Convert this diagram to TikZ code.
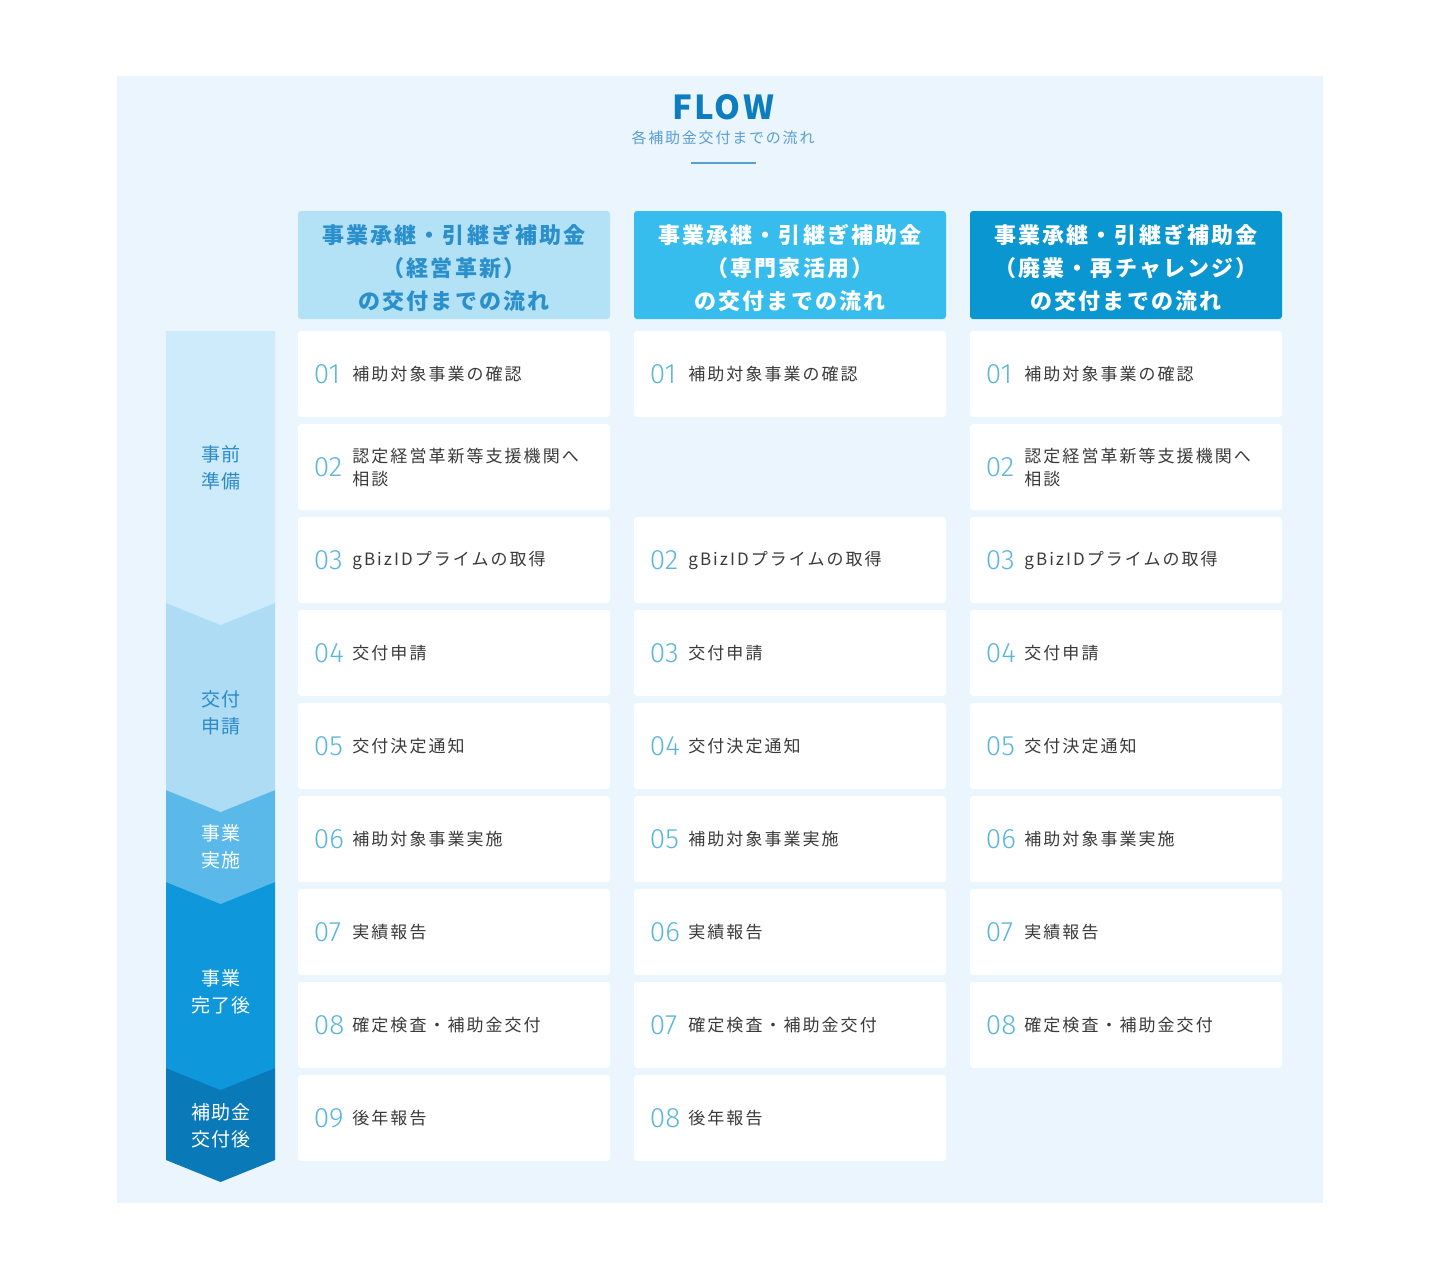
\documentclass[tikz,border=0pt]{standalone}
\usepackage{fontspec}
\setmainfont{Noto Sans CJK JP}
\newfontfamily\jpfont[LetterSpace=12]{Noto Sans CJK JP}
\newfontfamily\hdfont[LetterSpace=10]{Noto Sans CJK JP}
\newfontfamily\sidefont[LetterSpace=6]{Noto Sans CJK JP}
\newfontfamily\subfont[LetterSpace=12]{Noto Sans CJK JP}
\newfontfamily\flowfont[LetterSpace=7]{Noto Sans CJK JP}
\newfontfamily\numfont{Fira Sans Light}
\definecolor{panel}{HTML}{EAF5FD}
\definecolor{flowc}{HTML}{0D7DC0}
\definecolor{subc}{HTML}{5A9ED2}
\definecolor{hdA}{HTML}{B3E1F6}
\definecolor{hdAt}{HTML}{2A8FCB}
\definecolor{hdB}{HTML}{36BDED}
\definecolor{hdC}{HTML}{0A96D0}
\definecolor{numc}{HTML}{5BB5DE}
\definecolor{lblc}{HTML}{3A3A3A}
\definecolor{sA}{HTML}{CDEBFB}
\definecolor{sB}{HTML}{ADDCF4}
\definecolor{sC}{HTML}{5BB9E9}
\definecolor{sD}{HTML}{0E98DB}
\definecolor{sE}{HTML}{0A79B8}
\definecolor{sidet}{HTML}{2C8AC8}
\newcommand\stepcell[5]{%
  \node[stepbox] (#1) at (#2+156,#3) {};
  \node[num] (#1n) at (#2+15.5,#3) {#4};
  \node[lbl] (#1t) at (#2+54,#3+0.5) {#5};
}
\begin{document}
\begin{tikzpicture}[x=0.5pt,y=-0.5pt,
  stepbox/.style={fill=white, rounded corners=1.5pt, draw=none, minimum width=156pt, minimum height=43pt, inner sep=0},
  num/.style={anchor=west, font=\numfont\fontsize{14}{16}\selectfont, text=numc, inner sep=0},
  lbl/.style={anchor=west, font=\jpfont\fontsize{8.5}{11.5}\selectfont, text=lblc, align=left, inner sep=0},
  hdbox/.style={rounded corners=1.5pt, minimum width=156pt, minimum height=54pt, inner sep=0, align=center, font=\hdfont\bfseries\fontsize{11}{16.5}\selectfont},
  sidelbl/.style={align=center, inner sep=0, font=\sidefont\fontsize{9.5}{13.5}\selectfont},
]
\useasboundingbox (0,0) rectangle (1440,1280);
\fill[panel] (117,76) rectangle (1323,1203);

% title
\node[font=\flowfont\bfseries\fontsize{16.5}{18}\selectfont, text=flowc, inner sep=0] (flow) at (723,107) {FLOW};
\node[font=\subfont\fontsize{7.5}{8.5}\selectfont, text=subc, inner sep=0] (sub) at (723,138) {各補助金交付までの流れ};
\coordinate (ulA) at (691,163);
\coordinate (ulB) at (756,163);
\draw[subc, line width=1pt] (ulA) -- (ulB);

% headers
\path (454,265) node[hdbox, fill=hdA, minimum width=156pt] (hA) {};
\path (790,265) node[hdbox, fill=hdB] (hB) {};
\path (1126,265) node[hdbox, fill=hdC] (hC) {};
\node[align=center, inner sep=0, font=\hdfont\bfseries\fontsize{11}{16.5}\selectfont, text=hdAt] (hAt) at (454,268) {事業承継・引継ぎ補助金\\（経営革新）\\の交付までの流れ};
\node[align=center, inner sep=0, font=\hdfont\bfseries\fontsize{11}{16.5}\selectfont, text=white] (hBt) at (790,268) {事業承継・引継ぎ補助金\\（専門家活用）\\の交付までの流れ};
\node[align=center, inner sep=0, font=\hdfont\bfseries\fontsize{11}{16.5}\selectfont, text=white] (hCt) at (1126,268) {事業承継・引継ぎ補助金\\（廃業・再チャレンジ）\\の交付までの流れ};

% left phase column (bottom first so upper points overlay)
\fill[sE] (166,1068) -- (275,1068) -- (275,1160) -- (220.5,1182) -- (166,1160) -- cycle;
\fill[sD] (166,882) -- (275,882) -- (275,1068) -- (220.5,1090) -- (166,1068) -- cycle;
\fill[sC] (166,790) -- (275,790) -- (275,882) -- (220.5,904) -- (166,882) -- cycle;
\fill[sB] (166,603) -- (275,603) -- (275,790) -- (220.5,812) -- (166,790) -- cycle;
\fill[sA] (166,331) -- (275,331) -- (275,603) -- (220.5,625) -- (166,603) -- cycle;
\node[sidelbl, text=sidet] (p1) at (221,468) {事前\\準備};
\node[sidelbl, text=sidet] (p2) at (221,713) {交付\\申請};
\node[sidelbl, text=white] (p3) at (221,847) {事業\\実施};
\node[sidelbl, text=white] (p4) at (221,992) {事業\\完了後};
\node[sidelbl, text=white] (p5) at (221,1126) {補助金\\交付後};

% column 1
\stepcell{a1}{298}{374}{01}{補助対象事業の確認}
\stepcell{a2}{298}{467}{02}{認定経営革新等支援機関へ\\相談}
\stepcell{a3}{298}{560}{03}{gBizIDプライムの取得}
\stepcell{a4}{298}{653}{04}{交付申請}
\stepcell{a5}{298}{746}{05}{交付決定通知}
\stepcell{a6}{298}{839}{06}{補助対象事業実施}
\stepcell{a7}{298}{932}{07}{実績報告}
\stepcell{a8}{298}{1025}{08}{確定検査・補助金交付}
\stepcell{a9}{298}{1118}{09}{後年報告}

% column 2
\stepcell{b1}{634}{374}{01}{補助対象事業の確認}
\stepcell{b3}{634}{560}{02}{gBizIDプライムの取得}
\stepcell{b4}{634}{653}{03}{交付申請}
\stepcell{b5}{634}{746}{04}{交付決定通知}
\stepcell{b6}{634}{839}{05}{補助対象事業実施}
\stepcell{b7}{634}{932}{06}{実績報告}
\stepcell{b8}{634}{1025}{07}{確定検査・補助金交付}
\stepcell{b9}{634}{1118}{08}{後年報告}

% column 3
\stepcell{c1}{970}{374}{01}{補助対象事業の確認}
\stepcell{c2}{970}{467}{02}{認定経営革新等支援機関へ\\相談}
\stepcell{c3}{970}{560}{03}{gBizIDプライムの取得}
\stepcell{c4}{970}{653}{04}{交付申請}
\stepcell{c5}{970}{746}{05}{交付決定通知}
\stepcell{c6}{970}{839}{06}{補助対象事業実施}
\stepcell{c7}{970}{932}{07}{実績報告}
\stepcell{c8}{970}{1025}{08}{確定検査・補助金交付}
\end{tikzpicture}
\end{document}
